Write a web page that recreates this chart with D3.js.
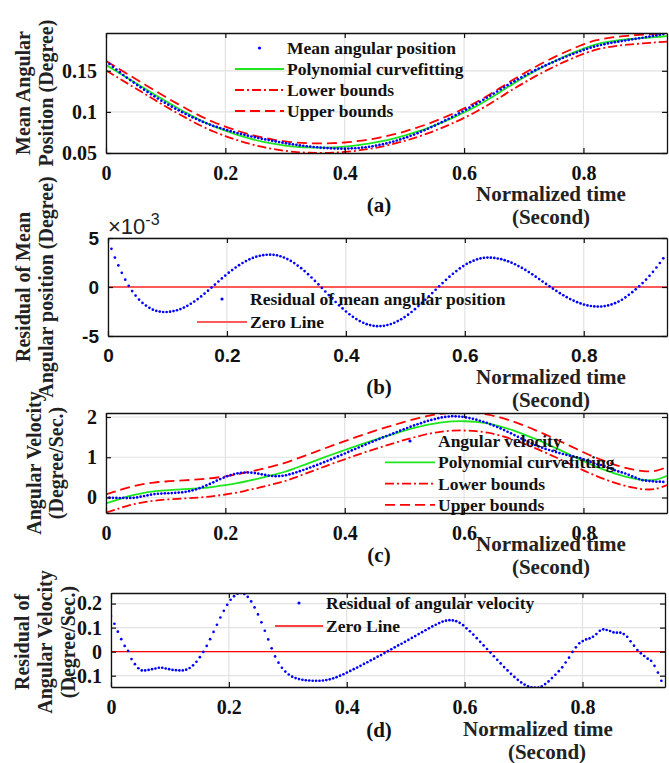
<!DOCTYPE html>
<html>
<head>
<meta charset="utf-8">
<script src="https://cdn.jsdelivr.net/npm/d3@7/dist/d3.min.js"></script>
<style>
  body { margin: 0; background: #fff; }
  svg { display: block; }
</style>
</head>
<body>
<script>
// sampling of the measured points and of the fitted curves
const dotStep = 0.0058;
const lineStep = 0.02;
const xTicks = [0, 0.2, 0.4, 0.6, 0.8];

// (a) mean angular position (degree)
const meanPosition = [
  0.1618, 0.1583, 0.1549, 0.1515, 0.1483, 0.1449, 0.1418, 0.1387, 0.1357, 0.1327,
  0.1299, 0.1270, 0.1243, 0.1215, 0.1189, 0.1163, 0.1137, 0.1112, 0.1088, 0.1064,
  0.1041, 0.1019, 0.0997, 0.0975, 0.0954, 0.0934, 0.0916, 0.0896, 0.0878, 0.0862,
  0.0846, 0.0830, 0.0817, 0.0804, 0.0791, 0.0778, 0.0766, 0.0754, 0.0743, 0.0732,
  0.0722, 0.0711, 0.0701, 0.0692, 0.0683, 0.0673, 0.0665, 0.0657, 0.0648, 0.0641,
  0.0633, 0.0626, 0.0618, 0.0611, 0.0605, 0.0599, 0.0593, 0.0588, 0.0582, 0.0578,
  0.0573, 0.0570, 0.0565, 0.0562, 0.0560, 0.0557, 0.0555, 0.0554, 0.0553, 0.0553,
  0.0555, 0.0557, 0.0558, 0.0561, 0.0566, 0.0570, 0.0575, 0.0582, 0.0590, 0.0598,
  0.0607, 0.0617, 0.0628, 0.0639, 0.0652, 0.0665, 0.0678, 0.0693, 0.0709, 0.0724,
  0.0741, 0.0760, 0.0777, 0.0795, 0.0815, 0.0834, 0.0855, 0.0875, 0.0896, 0.0917,
  0.0939, 0.0961, 0.0983, 0.1005, 0.1028, 0.1051, 0.1075, 0.1097, 0.1123, 0.1148,
  0.1172, 0.1197, 0.1223, 0.1248, 0.1274, 0.1299, 0.1325, 0.1351, 0.1374, 0.1397,
  0.1420, 0.1442, 0.1464, 0.1486, 0.1508, 0.1527, 0.1547, 0.1566, 0.1586, 0.1603,
  0.1622, 0.1640, 0.1657, 0.1674, 0.1691, 0.1707, 0.1723, 0.1738, 0.1754, 0.1767,
  0.1781, 0.1794, 0.1805, 0.1814, 0.1824, 0.1833, 0.1840, 0.1848, 0.1855, 0.1862,
  0.1869, 0.1876, 0.1883, 0.1889, 0.1896, 0.1902, 0.1910, 0.1916, 0.1924, 0.1931,
  0.1939, 0.1947
];
const positionFit = [
  0.1570, 0.1482, 0.1394, 0.1306, 0.1218, 0.1131, 0.1048, 0.0968, 0.0893, 0.0827,
  0.0771, 0.0721, 0.0678, 0.0642, 0.0613, 0.0591, 0.0576, 0.0568, 0.0566, 0.0569,
  0.0578, 0.0593, 0.0613, 0.0640, 0.0673, 0.0711, 0.0756, 0.0806, 0.0863, 0.0925,
  0.0993, 0.1067, 0.1150, 0.1240, 0.1332, 0.1418, 0.1500, 0.1576, 0.1647, 0.1712,
  0.1771, 0.1819, 0.1851, 0.1872, 0.1887, 0.1899, 0.1910, 0.1921
];
const positionLower = [
  0.1505, 0.1417, 0.1329, 0.1241, 0.1153, 0.1066, 0.0983, 0.0903, 0.0828, 0.0762,
  0.0706, 0.0656, 0.0613, 0.0577, 0.0548, 0.0526, 0.0511, 0.0503, 0.0501, 0.0504,
  0.0513, 0.0528, 0.0548, 0.0575, 0.0608, 0.0646, 0.0691, 0.0741, 0.0798, 0.0860,
  0.0928, 0.1002, 0.1085, 0.1175, 0.1267, 0.1353, 0.1435, 0.1511, 0.1582, 0.1647,
  0.1706, 0.1754, 0.1786, 0.1807, 0.1822, 0.1834, 0.1845, 0.1856
];
const positionUpper = [
  0.1620, 0.1532, 0.1444, 0.1356, 0.1268, 0.1181, 0.1098, 0.1018, 0.0943, 0.0877,
  0.0821, 0.0771, 0.0728, 0.0692, 0.0663, 0.0641, 0.0626, 0.0618, 0.0616, 0.0619,
  0.0628, 0.0643, 0.0663, 0.0690, 0.0723, 0.0761, 0.0806, 0.0856, 0.0913, 0.0975,
  0.1043, 0.1117, 0.1200, 0.1290, 0.1382, 0.1468, 0.1550, 0.1626, 0.1697, 0.1762,
  0.1821, 0.1869, 0.1899, 0.1917, 0.1930, 0.1940, 0.1950, 0.1960
];

// (b) residual of mean angular position (x 10^-3 degree)
const positionResidual = [
  4.8, 3.9, 3.0, 2.2, 1.45, 0.75, 0.12, -0.42, -0.88, -1.28,
  -1.62, -1.90, -2.13, -2.31, -2.43, -2.51, -2.55, -2.55, -2.52, -2.46,
  -2.37, -2.25, -2.10, -1.92, -1.71, -1.48, -1.23, -0.96, -0.67, -0.37,
  -0.06, 0.25, 0.56, 0.87, 1.17, 1.46, 1.73, 1.99, 2.23, 2.45,
  2.65, 2.82, 2.97, 3.09, 3.18, 3.25, 3.29, 3.30, 3.28, 3.23,
  3.14, 3.01, 2.85, 2.66, 2.44, 2.19, 1.92, 1.62, 1.31, 0.97,
  0.62, 0.27, -0.09, -0.46, -0.82, -1.18, -1.53, -1.87, -2.19, -2.50,
  -2.78, -3.04, -3.27, -3.48, -3.65, -3.79, -3.89, -3.96, -4.00, -3.99,
  -3.96, -3.88, -3.78, -3.65, -3.48, -3.29, -3.07, -2.82, -2.55, -2.26,
  -1.95, -1.63, -1.30, -0.96, -0.62, -0.28, 0.07, 0.40, 0.73, 1.05,
  1.35, 1.63, 1.90, 2.14, 2.35, 2.53, 2.69, 2.82, 2.92, 2.98,
  3.00, 2.99, 2.97, 2.91, 2.84, 2.74, 2.62, 2.48, 2.32, 2.14,
  1.95, 1.74, 1.52, 1.29, 1.05, 0.81, 0.56, 0.31, 0.07, -0.17,
  -0.40, -0.63, -0.84, -1.04, -1.23, -1.40, -1.55, -1.68, -1.79, -1.88,
  -1.94, -1.98, -2.00, -1.99, -1.95, -1.88, -1.78, -1.65, -1.49, -1.30,
  -1.05, -0.80, -0.53, -0.24, 0.07, 0.40, 0.76, 1.14, 1.55, 1.99,
  2.45, 2.93
];

// (c) angular velocity (degree/sec.)
const angularVelocity = [
  0.003, -0.001, -0.007, -0.010, -0.012, -0.007, -0.014, -0.010, -0.008, 0.002,
  0.021, 0.038, 0.054, 0.070, 0.085, 0.093, 0.098, 0.103, 0.106, 0.111,
  0.116, 0.122, 0.129, 0.141, 0.157, 0.178, 0.203, 0.231, 0.263, 0.299,
  0.338, 0.377, 0.418, 0.458, 0.494, 0.529, 0.558, 0.583, 0.600, 0.615,
  0.622, 0.622, 0.616, 0.606, 0.591, 0.576, 0.562, 0.546, 0.534, 0.531,
  0.533, 0.540, 0.553, 0.575, 0.599, 0.626, 0.654, 0.684, 0.715, 0.746,
  0.778, 0.810, 0.843, 0.877, 0.912, 0.948, 0.984, 1.020, 1.057, 1.094,
  1.132, 1.169, 1.206, 1.243, 1.280, 1.316, 1.353, 1.387, 1.423, 1.457,
  1.492, 1.526, 1.560, 1.594, 1.628, 1.662, 1.696, 1.727, 1.759, 1.790,
  1.820, 1.848, 1.877, 1.905, 1.928, 1.950, 1.971, 1.989, 2.002, 2.012,
  2.020, 2.018, 2.013, 2.004, 1.990, 1.973, 1.955, 1.935, 1.908, 1.882,
  1.855, 1.823, 1.787, 1.752, 1.716, 1.675, 1.634, 1.594, 1.551, 1.507,
  1.464, 1.422, 1.380, 1.342, 1.305, 1.269, 1.236, 1.207, 1.180, 1.155,
  1.130, 1.105, 1.081, 1.060, 1.040, 1.023, 1.001, 0.978, 0.946, 0.916,
  0.882, 0.851, 0.827, 0.808, 0.781, 0.745, 0.712, 0.677, 0.647, 0.623,
  0.596, 0.563, 0.524, 0.492, 0.459, 0.431, 0.418, 0.409, 0.401, 0.392,
  0.393, 0.388
];
const velocityFit = [
  -0.145, -0.050, 0.040, 0.105, 0.150, 0.178, 0.198, 0.215, 0.235, 0.265,
  0.305, 0.355, 0.420, 0.485, 0.560, 0.640, 0.745, 0.855, 0.965, 1.075,
  1.180, 1.285, 1.385, 1.480, 1.570, 1.660, 1.740, 1.810, 1.860, 1.890,
  1.895, 1.880, 1.840, 1.770, 1.680, 1.570, 1.450, 1.320, 1.185, 1.045,
  0.905, 0.775, 0.660, 0.560, 0.485, 0.435, 0.440, 0.540
];
const velocityLower = [
  -0.375, -0.280, -0.190, -0.125, -0.080, -0.052, -0.032, -0.015, 0.005, 0.035,
  0.075, 0.125, 0.190, 0.255, 0.330, 0.410, 0.515, 0.625, 0.735, 0.845,
  0.950, 1.055, 1.155, 1.250, 1.340, 1.430, 1.510, 1.580, 1.630, 1.660,
  1.665, 1.650, 1.610, 1.540, 1.450, 1.340, 1.220, 1.090, 0.955, 0.815,
  0.675, 0.545, 0.430, 0.330, 0.255, 0.205, 0.210, 0.310
];
const velocityUpper = [
  0.075, 0.170, 0.260, 0.325, 0.370, 0.398, 0.418, 0.435, 0.455, 0.485,
  0.525, 0.575, 0.640, 0.705, 0.780, 0.860, 0.965, 1.075, 1.185, 1.295,
  1.400, 1.505, 1.605, 1.700, 1.790, 1.880, 1.960, 2.030, 2.080, 2.110,
  2.115, 2.100, 2.060, 1.990, 1.900, 1.790, 1.670, 1.540, 1.405, 1.265,
  1.125, 0.995, 0.880, 0.780, 0.705, 0.655, 0.660, 0.760
];

// (d) residual of angular velocity (degree/sec.)
const velocityResidual = [
  0.148, 0.116, 0.083, 0.052, 0.024, 0.003, -0.031, -0.052, -0.069, -0.078,
  -0.078, -0.076, -0.073, -0.070, -0.067, -0.067, -0.070, -0.073, -0.076, -0.077,
  -0.078, -0.078, -0.075, -0.068, -0.057, -0.042, -0.023, -0.001, 0.024, 0.052,
  0.082, 0.112, 0.142, 0.170, 0.195, 0.216, 0.231, 0.241, 0.244, 0.240,
  0.228, 0.209, 0.184, 0.155, 0.122, 0.087, 0.051, 0.014, -0.020, -0.046,
  -0.067, -0.083, -0.095, -0.104, -0.110, -0.114, -0.117, -0.119, -0.120, -0.121,
  -0.121, -0.121, -0.120, -0.118, -0.115, -0.111, -0.106, -0.100, -0.094, -0.087,
  -0.080, -0.073, -0.066, -0.059, -0.051, -0.044, -0.036, -0.029, -0.021, -0.014,
  -0.006, 0.002, 0.010, 0.018, 0.026, 0.033, 0.041, 0.049, 0.057, 0.065,
  0.073, 0.081, 0.089, 0.097, 0.105, 0.112, 0.119, 0.125, 0.129, 0.131,
  0.130, 0.127, 0.120, 0.110, 0.097, 0.085, 0.071, 0.056, 0.041, 0.026,
  0.011, -0.004, -0.019, -0.034, -0.049, -0.064, -0.078, -0.092, -0.105, -0.117,
  -0.128, -0.137, -0.144, -0.148, -0.150, -0.149, -0.144, -0.135, -0.124, -0.110,
  -0.096, -0.081, -0.065, -0.045, -0.025, -0.001, 0.018, 0.035, 0.044, 0.051,
  0.055, 0.062, 0.073, 0.087, 0.093, 0.090, 0.086, 0.080, 0.079, 0.079,
  0.073, 0.062, 0.043, 0.025, 0.007, -0.007, -0.018, -0.029, -0.038, -0.059,
  -0.087, -0.121
];

const zeroLineTimes = [0, 0.94];
const zeroLineValues = [0, 0];

const serif = "'Liberation Serif', 'Times New Roman', serif";
const sans = "'Liberation Sans', Arial, sans-serif";

const svg = d3.select("body").append("svg")
    .attr("width", 669)
    .attr("height", 763);
svg.append("rect").attr("width", 669).attr("height", 763).attr("fill", "#fff");

const styles = {
    fit:   { stroke: "#1ee61e", width: 1.8, dash: null },
    lower: { stroke: "#ff0000", width: 1.8, dash: "9,3,2,3" },
    upper: { stroke: "#ff0000", width: 1.8, dash: "10,5" },
    zeroB: { stroke: "#ff5a5a", width: 2, dash: null },
    zeroD: { stroke: "#ff0000", width: 1.4, dash: null }
};

function drawPanel(p) {
    let g = svg.append("g");
    let x = d3.scaleLinear().domain([0, 0.94]).range([p.left, p.right]);
    let y = d3.scaleLinear().domain(p.yDomain).range([p.bottom, p.top]);

    svg.append("clipPath").attr("id", "clip-" + p.id)
        .append("rect")
        .attr("x", p.left).attr("y", p.top)
        .attr("width", p.right - p.left).attr("height", p.bottom - p.top);

    // grid
    g.selectAll(".gx").data(xTicks).enter().append("line")
        .attr("x1", d => x(d)).attr("x2", d => x(d))
        .attr("y1", p.top).attr("y2", p.bottom)
        .attr("stroke", "#e2e2e2").attr("stroke-width", 1.2);
    g.selectAll(".gy").data(p.yTicks).enter().append("line")
        .attr("x1", p.left).attr("x2", p.right)
        .attr("y1", d => y(d)).attr("y2", d => y(d))
        .attr("stroke", "#e2e2e2").attr("stroke-width", 1.2);

    let plot = g.append("g").attr("clip-path", "url(#clip-" + p.id + ")");

    p.lines.forEach(l => {
        let line = d3.line()
            .x((d, i) => x(l.times ? l.times[i] : i * lineStep))
            .y(d => y(d))
            .curve(d3.curveCatmullRom);
        let s = styles[l.style];
        plot.append("path").datum(l.values)
            .attr("d", line)
            .attr("fill", "none")
            .attr("stroke", s.stroke)
            .attr("stroke-width", s.width)
            .attr("stroke-dasharray", s.dash);
    });

    plot.selectAll("circle").data(p.dots).enter().append("circle")
        .attr("cx", (d, i) => x(i * dotStep))
        .attr("cy", d => y(d))
        .attr("r", 1.35)
        .attr("fill", "#0000ff");

    // axes with inward ticks on all four sides
    let font = p.tickFont || serif;
    let bottom = g.append("g").attr("transform", `translate(0,${p.bottom})`)
        .call(d3.axisBottom(x).tickValues(xTicks).tickFormat(d => String(d))
            .tickSizeInner(-5).tickSizeOuter(0).tickPadding(13));
    let left = g.append("g").attr("transform", `translate(${p.left},0)`)
        .call(d3.axisLeft(y).tickValues(p.yTicks).tickFormat(p.yFormat || (d => String(d)))
            .tickSizeInner(-5).tickSizeOuter(0).tickPadding(9));
    let top = g.append("g").attr("transform", `translate(0,${p.top})`)
        .call(d3.axisTop(x).tickValues(xTicks).tickFormat("")
            .tickSizeInner(-5).tickSizeOuter(0));
    let right = g.append("g").attr("transform", `translate(${p.right},0)`)
        .call(d3.axisRight(y).tickValues(p.yTicks).tickFormat("")
            .tickSizeInner(-5).tickSizeOuter(0));

    [bottom, left, top, right].forEach(a => {
        a.selectAll("path").attr("stroke", "#111").attr("stroke-width", 1.3);
        a.selectAll("line").attr("stroke", "#111").attr("stroke-width", 1.2);
        a.selectAll("text")
            .attr("fill", "#111")
            .style("font-family", font)
            .style("font-size", (p.tickSize || 20) + "px")
            .style("font-weight", "bold");
    });

    // y label, rotated
    p.yLabel.forEach((txt, k) => {
        svg.append("text")
            .attr("transform", `translate(${p.yLabelX[k]},${p.yLabelY}) rotate(-90)`)
            .attr("text-anchor", "middle")
            .attr("dominant-baseline", "central")
            .style("font-family", serif)
            .style("font-size", "20px")
            .style("font-weight", "bold")
            .attr("fill", "#222")
            .text(txt);
    });

    // x label and panel caption
    svg.append("text").attr("x", p.xLabelX).attr("y", p.xLabelY)
        .attr("text-anchor", "middle")
        .style("font-family", serif).style("font-size", "21px").style("font-weight", "bold")
        .attr("fill", "#222")
        .text("Normalized time");
    svg.append("text").attr("x", p.xLabelX2).attr("y", p.xLabelY + 23)
        .attr("text-anchor", "middle")
        .style("font-family", serif).style("font-size", "21px").style("font-weight", "bold")
        .attr("fill", "#222")
        .text("(Second)");
    svg.append("text").attr("x", 379).attr("y", p.captionY)
        .attr("text-anchor", "middle")
        .style("font-family", serif).style("font-size", "21px").style("font-weight", "bold")
        .attr("fill", "#111")
        .text(p.caption);

    // legend (no box)
    let lg = svg.append("g");
    p.legend.forEach((item, k) => {
        let ly = p.legendY + k * p.legendGap;
        if (item.style === "dots") {
            lg.append("circle")
                .attr("cx", (p.legendX0 + p.legendX1) / 2).attr("cy", ly)
                .attr("r", 1.6).attr("fill", "#0000ff");
        } else {
            let s = styles[item.style];
            lg.append("line")
                .attr("x1", p.legendX0).attr("x2", p.legendX1)
                .attr("y1", ly).attr("y2", ly)
                .attr("stroke", s.stroke).attr("stroke-width", s.width)
                .attr("stroke-dasharray", s.dash);
        }
        lg.append("text")
            .attr("x", p.legendX1 + 3).attr("y", ly)
            .attr("dominant-baseline", "central")
            .style("font-family", serif).style("font-size", "17.5px").style("font-weight", "bold")
            .attr("fill", "#111")
            .text(item.label);
    });

    return { x: x, y: y };
}

drawPanel({
    id: "a", left: 106, right: 667, top: 33, bottom: 153,
    yDomain: [0.05, 0.196], yTicks: [0.05, 0.1, 0.15],
    dots: meanPosition,
    lines: [
        { values: positionLower, style: "lower" },
        { values: positionUpper, style: "upper" },
        { values: positionFit, style: "fit" }
    ],
    yLabel: ["Mean Angular", "Position (Degree)"], yLabelX: [23, 46], yLabelY: 93,
    xLabelX: 551, xLabelX2: 551, xLabelY: 201, caption: "(a)", captionY: 212,
    legend: [
        { label: "Mean angular position", style: "dots" },
        { label: "Polynomial curvefitting", style: "fit" },
        { label: "Lower bounds", style: "lower" },
        { label: "Upper bounds", style: "upper" }
    ],
    legendX0: 235, legendX1: 284, legendY: 48, legendGap: 21
});

drawPanel({
    id: "b", left: 108, right: 667, top: 238, bottom: 336,
    yDomain: [-5, 5], yTicks: [-5, 0, 5],
    dots: positionResidual,
    lines: [
        { values: zeroLineValues, times: zeroLineTimes, style: "zeroB" }
    ],
    tickFont: sans, tickSize: 19,
    yLabel: ["Residual of Mean", "Angular position (Degree)"], yLabelX: [23, 46], yLabelY: 287,
    xLabelX: 551, xLabelX2: 551, xLabelY: 384, caption: "(b)", captionY: 394,
    legend: [
        { label: "Residual of mean angular position", style: "dots" },
        { label: "Zero Line", style: "zeroB" }
    ],
    legendX0: 197, legendX1: 247, legendY: 299, legendGap: 23
});

// exponent label of panel (b)
let expo = svg.append("text").attr("x", 108).attr("y", 234)
    .style("font-family", sans).style("font-size", "22px").attr("fill", "#222");
expo.append("tspan").text("\u00d710");
expo.append("tspan").attr("dy", -9).style("font-size", "16px").text("-3");

drawPanel({
    id: "c", left: 106, right: 667, top: 413, bottom: 513,
    yDomain: [-0.385, 2.1], yTicks: [0, 1, 2],
    dots: angularVelocity,
    lines: [
        { values: velocityLower, style: "lower" },
        { values: velocityUpper, style: "upper" },
        { values: velocityFit, style: "fit" }
    ],
    yLabel: ["Angular Velocity", "(Degree/Sec.)"], yLabelX: [34, 56], yLabelY: 463,
    xLabelX: 551, xLabelX2: 551, xLabelY: 551, caption: "(c)", captionY: 562,
    legend: [
        { label: "Angular velocity", style: "dots" },
        { label: "Polynomial curvefitting", style: "fit" },
        { label: "Lower bounds", style: "lower" },
        { label: "Upper bounds", style: "upper" }
    ],
    legendX0: 385, legendX1: 435, legendY: 441, legendGap: 21.3
});

drawPanel({
    id: "d", left: 111, right: 665, top: 593, bottom: 687,
    yDomain: [-0.147, 0.244], yTicks: [-0.1, 0, 0.1, 0.2],
    dots: velocityResidual,
    lines: [
        { values: zeroLineValues, times: zeroLineTimes, style: "zeroD" }
    ],
    yLabel: ["Residual of", "Angular Velocity", "(Degree/Sec.)"], yLabelX: [22, 45, 68], yLabelY: 642,
    xLabelX: 538, xLabelX2: 547, xLabelY: 736, caption: "(d)", captionY: 737,
    legend: [
        { label: "Residual of angular velocity", style: "dots" },
        { label: "Zero Line", style: "zeroD" }
    ],
    legendX0: 275, legendX1: 323, legendY: 603, legendGap: 23
});
</script>
</body>
</html>
